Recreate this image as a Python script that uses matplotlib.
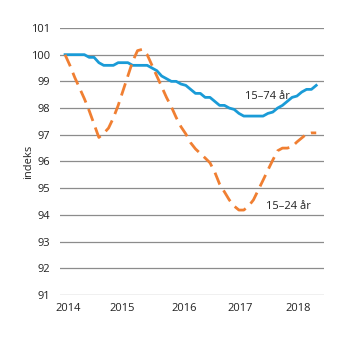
import numpy as np
import matplotlib
matplotlib.use('Agg')
import matplotlib.pyplot as plt

plt.rcParams['font.family'] = ['Open Sans', 'DejaVu Sans']

# ── Data: monthly index, Jan 2014 = 100 (Jan 2014 – May 2018) ────────────────
months = np.arange(53)
age_15_74 = [100.0, 100.0, 100.0, 100.0, 100.0, 99.9, 99.9, 99.7, 99.6, 99.6,
             99.6, 99.7, 99.7, 99.7, 99.6, 99.6, 99.6, 99.6, 99.5, 99.4,
             99.2, 99.1, 99.0, 99.0, 98.9, 98.85, 98.7, 98.55, 98.55, 98.4,
             98.4, 98.25, 98.1, 98.1, 98.0, 97.95, 97.8, 97.7, 97.7, 97.7,
             97.7, 97.7, 97.8, 97.85, 98.0, 98.1, 98.25, 98.4, 98.45, 98.6,
             98.7, 98.7, 98.85]
age_15_24 = [100.0, 99.6, 99.15, 98.75, 98.35, 97.9, 97.4, 96.9, 97.05, 97.25,
             97.63, 98.1, 98.65, 99.2, 99.75, 100.15, 100.2, 100.0, 99.6, 99.2,
             98.8, 98.4, 98.05, 97.65, 97.3, 97.03, 96.7, 96.47, 96.3, 96.13,
             95.95, 95.6, 95.15, 94.86, 94.56, 94.33, 94.18, 94.18, 94.33, 94.56,
             94.93, 95.3, 95.68, 96.05, 96.4, 96.5, 96.5, 96.55, 96.73, 96.88,
             97.03, 97.07, 97.07]
year_labels = ['2014', '2015', '2016', '2017', '2018']
year_pos = [0.6, 11.8, 24.6, 36.2, 48.2]
y_ticks = list(range(91, 102))

# ── Figure ───────────────────────────────────────────────────────────────────
fig = plt.figure(figsize=(3.45, 3.41), dpi=100)
ax = fig.add_axes([0.174, 0.135, 0.765, 0.783])

for v in y_ticks:
    ax.axhline(v, color='#8c8c8c', lw=0.9, zorder=1)

ax.plot(months, age_15_74, color='#1a9bd7', lw=2.0, zorder=3)
ax.plot(months, age_15_24, color='#f07f32', lw=2.0, zorder=3,
        dashes=(4.6, 2.5))

ax.text(37.2, 98.45, '15–74 år', fontsize=8, color='#222222',
        ha='left', va='center')
ax.text(41.5, 94.3, '15–24 år', fontsize=8, color='#222222',
        ha='left', va='center')

ax.set_xlim(-1.04, 53.6)
ax.set_ylim(91, 101)
ax.set_yticks(y_ticks)
ax.set_xticks(year_pos)
ax.set_xticklabels(year_labels)
ax.tick_params(axis='both', length=0, labelsize=8, colors='#222222')
ax.tick_params(axis='y', pad=7)
ax.tick_params(axis='x', pad=6)
ax.set_ylabel('indeks', fontsize=8, color='#222222', labelpad=-2)
for s in ax.spines.values():
    s.set_visible(False)

plt.savefig('out.png', dpi=100)
plt.close()
